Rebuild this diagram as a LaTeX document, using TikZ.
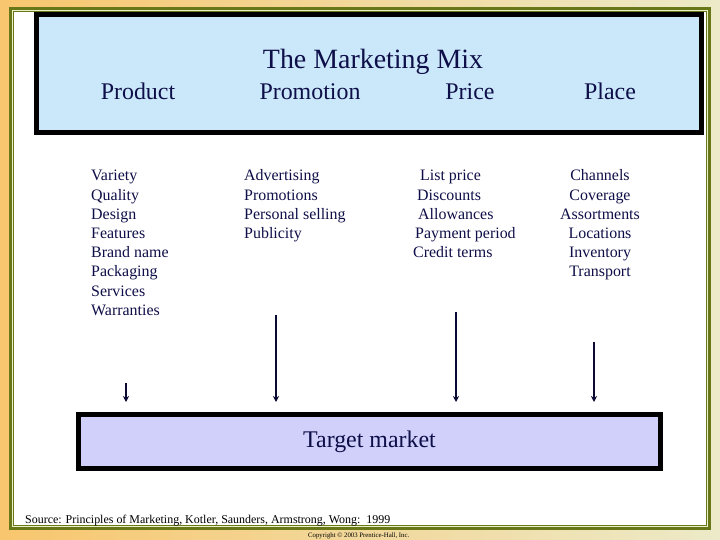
\documentclass[tikz,border=0pt]{standalone}
\usepackage{fontspec}
\setmainfont{Liberation Serif}
\usetikzlibrary{arrows.meta}
\definecolor{bgL}{RGB}{248,198,110}
\definecolor{bgR}{RGB}{236,234,200}
\definecolor{olive}{RGB}{104,120,24}
\definecolor{paleol}{RGB}{236,240,200}
\definecolor{skyfill}{RGB}{202,232,250}
\definecolor{lavfill}{RGB}{208,208,250}
\definecolor{navy}{RGB}{14,14,72}
\definecolor{arrcol}{RGB}{10,10,50}
\tikzset{
  head/.style={inner sep=0pt, anchor=base, text=navy, font=\fontsize{24}{28}\selectfont},
  item/.style={inner sep=0pt, text=navy, font=\fontsize{16}{19}\selectfont},
  panel/.style={draw=black, line width=5bp, inner sep=0pt},
  arr/.style={draw=arrcol, line width=2bp, -{Stealth[length=6bp,width=6bp]}, shorten >=10bp}
}
\begin{document}
\begin{tikzpicture}[x=1bp,y=-1bp]
\useasboundingbox (0,0) rectangle (720,540);
% background and frame
\shade[left color=bgL, right color=bgR] (0,0) rectangle (720,540);
\fill[olive] (9,7) rectangle (711,530);
\fill[paleol] (12,10) rectangle (708,527);
\fill[olive] (12.8,10.8) rectangle (707.2,526.2);
\fill[white] (14.3,12.3) rectangle (705.7,524.7);
% top box
\node[panel, fill=skyfill, minimum width=665bp, minimum height=117.5bp] (mix) at (369,73.75) {};
\node[head, font=\fontsize{28}{32}\selectfont] (title) at (373,69) {The Marketing Mix};
\node[head] (hprod) at (138,100) {Product};
\node[head] (hprom) at (310,100) {Promotion};
\node[head] (hprice) at (470,100) {Price};
\node[head] (hplace) at (610,100) {Place};
% lists
\foreach \t [count=\i] in {Variety,Quality,Design,Features,Brand name,Packaging,Services,Warranties}
  \node[item, anchor=base west] (pr\i) at (91,{181+19.2*(\i-1)}) {\t};
\foreach \t [count=\i] in {Advertising,Promotions,Personal selling,Publicity}
  \node[item, anchor=base west] (pm\i) at (244,{181+19.2*(\i-1)}) {\t};
\node[item, anchor=base west] (pc1) at (420,181) {List price};
\node[item, anchor=base west] (pc2) at (417,200.2) {Discounts};
\node[item, anchor=base west] (pc3) at (418,219.4) {Allowances};
\node[item, anchor=base west] (pc4) at (415,238.6) {Payment period};
\node[item, anchor=base west] (pc5) at (413,257.8) {Credit terms};
\foreach \t [count=\i] in {Channels,Coverage,Assortments,Locations,Inventory,Transport}
  \node[item, anchor=base] (pl\i) at (600,{181+19.2*(\i-1)}) {\t};
% target market
\node[panel, fill=lavfill, minimum width=582bp, minimum height=54bp, text=navy, font=\fontsize{24}{28}\selectfont] (tm) at (369.5,441.5) {Target market};
% arrows
\coordinate (a1) at (126,383);
\coordinate (a2) at (276,315);
\coordinate (a3) at (456,312);
\coordinate (a4) at (594,342);
\foreach \k in {1,2,3,4}
  \draw[arr] (a\k) -- (a\k |- tm.north);
% footnotes
\node[inner sep=0pt, anchor=base west, font=\fontsize{12}{14}\selectfont] (src) at (25,523) {Source: Principles of Marketing, Kotler, Saunders, Armstrong, Wong:\ \ 1999};
\node[inner sep=0pt, anchor=base west, font=\fontsize{6.8}{8}\selectfont] (copy) at (308,537) {Copyright © 2003 Prentice-Hall, Inc.};
\end{tikzpicture}
\end{document}
